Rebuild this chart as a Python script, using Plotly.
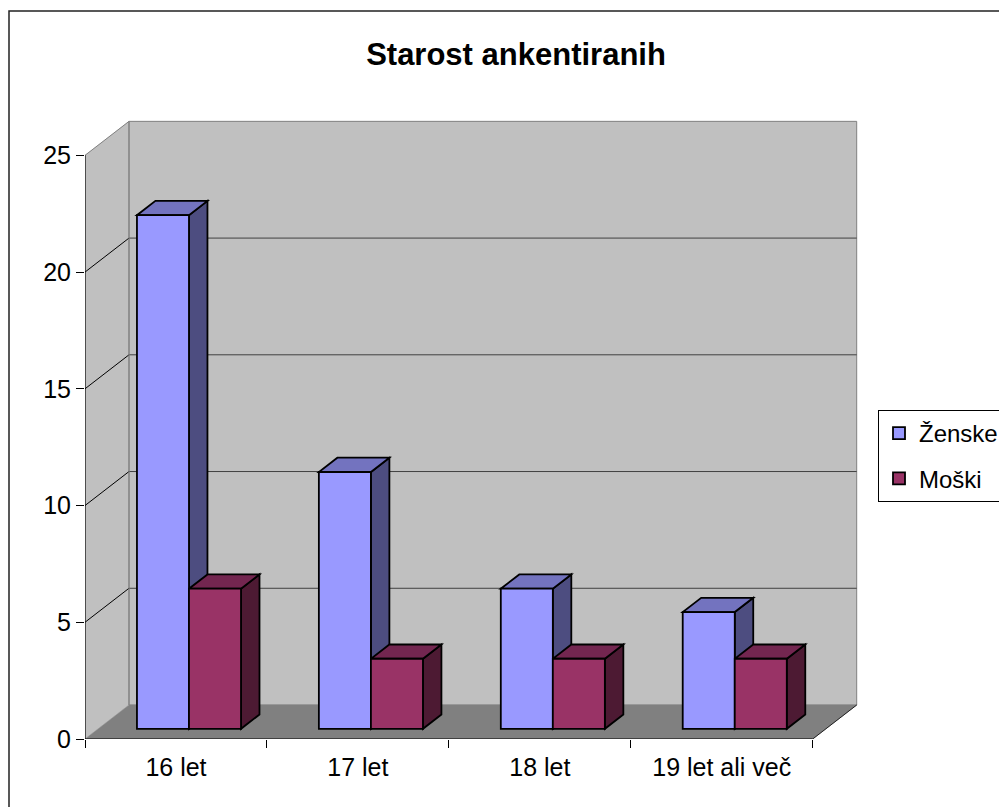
import plotly.graph_objects as go

# ---------------- data ----------------
categories = ["16 let", "17 let", "18 let", "19 let ali več"]
zenske = [22, 11, 6, 5]
moski = [6, 3, 3, 3]
series_names = ["Ženske", "Moški"]
y_ticks = [0, 5, 10, 15, 20, 25]
title_text = "Starost ankentiranih"

# ---------------- styles ----------------
front_colors = ["#9999FF", "#993366"]
top_colors = ["#7373BF", "#732650"]
side_colors = ["#4D4D80", "#4D1A33"]
WALL = "#C0C0C0"
FLOOR = "#808080"
EDGE = "#808080"
GRID = "#404040"
FONT = "Liberation Sans, Arial, sans-serif"

OFF = 8                       # page body margin of the html page
W, H = 1007 - OFF, 807 - OFF  # figure size
ML, MR, MT, MB = 85 - OFF, 147, 118 - OFF, 68
U_MAX, V_MAX = 4.26, 26.6
plot_w = W - ML - MR
plot_h = H - MT - MB
px_u = plot_w / U_MAX
px_v = plot_h / V_MAX

DX = 44 / px_u          # depth offset of the back wall (axis units)
DY = 34 / px_v
BAR_FRONT = 0.30        # depth fraction of bar front faces
BAR_DEPTH = 0.42        # depth fraction of bar thickness
BAR_W = 0.286
GROUP_START = 0.213

n = len(categories)
top = max(y_ticks)
series = [zenske, moski]


def px_x(px):  # window pixel -> paper x
    return (px - OFF - ML) / plot_w


def px_y(py):  # window pixel -> paper y
    return (H - MB - (py - OFF)) / plot_h


def poly(points, fill, color, width):
    path = "M " + " L ".join(f"{x:.5f},{y:.5f}" for x, y in points) + " Z"
    return dict(type="path", path=path, xref="x", yref="y", layer="below",
                fillcolor=fill, line=dict(color=color, width=width))


def seg(p0, p1, color, width):
    return dict(type="line", xref="x", yref="y", layer="below",
                x0=p0[0], y0=p0[1], x1=p1[0], y1=p1[1],
                line=dict(color=color, width=width))


shapes = []
# walls and floor
shapes.append(poly([(0, 0), (0, top), (DX, top + DY), (DX, DY)], WALL, WALL, 0.1))
shapes.append(poly([(DX, DY), (DX, top + DY), (n + DX, top + DY), (n + DX, DY)], WALL, EDGE, 1))
shapes.append(poly([(0, 0), (n, 0), (n + DX, DY), (DX, DY)], FLOOR, FLOOR, 0.5))
shapes.append(seg((n, 0), (n + DX, DY), "#202020", 1))
# gridlines
for v in y_ticks[1:]:
    if v < top:
        shapes.append(seg((DX, v + DY), (n + DX, v + DY), GRID, 1))
        shapes.append(seg((0, v), (DX, v + DY), "black", 1))
    else:
        shapes.append(seg((0, v), (DX, v + DY), EDGE, 1))
shapes.append(seg((DX, DY), (DX, top + DY), EDGE, 1))
# front axis lines
shapes.append(seg((0, 0), (0, top), "black", 1.2))
shapes.append(seg((0, 0), (n, 0), "black", 1.2))

# 3D faces of the bars
base = BAR_FRONT * DY
ddx = BAR_DEPTH * DX
ddy = BAR_DEPTH * DY
for s, vals in enumerate(series):
    for i, val in enumerate(vals):
        xl = i + GROUP_START + s * BAR_W + BAR_FRONT * DX
        xr = xl + BAR_W
        t = base + val
        shapes.append(poly([(xr, base), (xr, t), (xr + ddx, t + ddy), (xr + ddx, base + ddy)],
                           side_colors[s], "black", 1.8))
        shapes.append(poly([(xl, t), (xr, t), (xr + ddx, t + ddy), (xl + ddx, t + ddy)],
                           top_colors[s], "black", 1.8))

# outer chart border
shapes.append(dict(type="rect", xref="paper", yref="paper",
                   x0=px_x(9), x1=px_x(1015), y0=px_y(815), y1=px_y(11),
                   line=dict(color="#222222", width=1.5), fillcolor="rgba(0,0,0,0)",
                   layer="above"))

fig = go.Figure()
for s, vals in enumerate(series):
    xs = [i + GROUP_START + s * BAR_W + BAR_FRONT * DX + BAR_W / 2 for i in range(n)]
    fig.add_trace(go.Bar(
        x=xs, y=vals, base=[base] * n, width=BAR_W,
        name=series_names[s], legendgroup=series_names[s],
        marker=dict(color=front_colors[s], line=dict(color="black", width=1.8)),
        hoverinfo="skip",
    ))

fig.update_layout(
    width=W, height=H, autosize=False,
    margin=dict(l=ML, r=MR, t=MT, b=MB, autoexpand=False),
    paper_bgcolor="white", plot_bgcolor="white",
    barmode="overlay",
    font=dict(family=FONT, size=25, color="black"),
    title=dict(text=title_text, x=(516 - OFF) / W, xanchor="center", xref="container",
               y=1 - (54 - OFF) / H, yanchor="middle", yref="container",
               font=dict(family=FONT, size=31, color="black", weight="bold")),
    shapes=shapes,
    showlegend=True,
    legend=dict(x=px_x(878), xanchor="left", y=px_y(410), yanchor="top",
                bgcolor="white", bordercolor="black", borderwidth=1,
                font=dict(family=FONT, size=24, color="black"),
                tracegroupgap=11, itemwidth=30, traceorder="grouped"),
    xaxis=dict(range=[0, U_MAX], showgrid=False, zeroline=False, showline=False,
               tickmode="array", tickvals=[i + 0.5 for i in range(n)], ticktext=categories,
               ticks="outside", ticklen=6, tickcolor="rgba(0,0,0,0)",
               minor=dict(tickmode="array", tickvals=list(range(n + 1)), ticks="outside",
                          ticklen=8, tickcolor="black", tickwidth=1, showgrid=False),
               fixedrange=True),
    yaxis=dict(range=[0, V_MAX], showgrid=False, zeroline=False, showline=False,
               tickmode="array", tickvals=y_ticks, ticktext=[str(v) for v in y_ticks],
               ticks="outside", ticklen=8, tickcolor="black", tickwidth=1,
               fixedrange=True),
)

fig.write_html("out.html")
